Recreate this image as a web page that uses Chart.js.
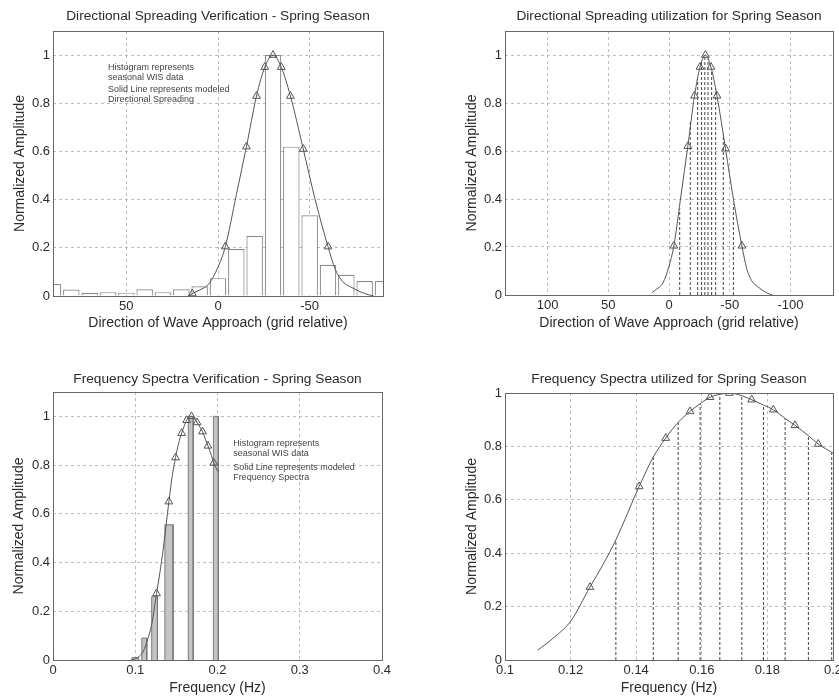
<!DOCTYPE html>
<html>
<head>
<meta charset="utf-8">
<script src="https://cdn.jsdelivr.net/npm/chart.js@4.4.1/dist/chart.umd.min.js"></script>
<style>
  html, body { margin: 0; padding: 0; background: #fff; overflow: hidden; width: 839px; height: 698px; position: relative; }
  canvas { position: absolute; }
</style>
</head>
<body>
<canvas id="dirVerify" style="left:0;top:0" width="420" height="349"></canvas>
<canvas id="dirUsed" style="left:420px;top:0" width="430" height="349"></canvas>
<canvas id="freqVerify" style="left:0;top:349px" width="420" height="360"></canvas>
<canvas id="freqUsed" style="left:420px;top:349px" width="430" height="360"></canvas>
<script>
/*=============== DATA ===============*/

// Directional histogram (10 deg bins, grid relative)
const dirBins = [90, 80, 70, 60, 50, 40, 30, 20, 10, 0, -10, -20, -30, -40, -50, -60, -70, -80, -90];
const dirHist = [0.05, 0.027, 0.012, 0.016, 0.014, 0.028, 0.016, 0.028, 0.04, 0.074, 0.195, 0.25, 1.0, 0.62, 0.335, 0.13, 0.088, 0.062, 0.062];

// Modeled directional spreading curve
const dirCurveX = [16, 14, 10, 5, 0, -4, -10, -15.5, -21, -25.5, -30, -34.5, -39.5, -46.5, -53, -60, -64, -68, -73, -80, -85];
const dirCurveY = [0, 0.01, 0.025, 0.05, 0.12, 0.205, 0.42, 0.62, 0.83, 0.95, 1.0, 0.95, 0.83, 0.61, 0.4, 0.205, 0.11, 0.06, 0.035, 0.01, 0];

// Triangle markers on the directional curve
const dirMarkX = [14, -4, -15.5, -21, -25.5, -30, -34.5, -39.5, -46.5, -60];
const dirMarkY = [0.01, 0.205, 0.62, 0.83, 0.95, 1.0, 0.95, 0.83, 0.61, 0.205];

// Direction bin boundaries used (dashed lines)
const dirCutX = [-8.8, -17.5, -23.6, -26.8, -29.5, -32.1, -35.1, -38.4, -44.7, -53];
const dirCutTop = [0.36, 0.72, 0.9, 0.97, 1.0, 0.985, 0.94, 0.86, 0.67, 0.38];

// Frequency histogram
const freqBinLo = [0.096, 0.108, 0.12, 0.136, 0.1645, 0.195];
const freqBinHi = [0.104, 0.114, 0.127, 0.146, 0.1705, 0.201];
const freqHist = [0.01, 0.09, 0.26, 0.555, 1.0, 1.0];

// Modeled frequency spectrum
const freqTailX = [0.095, 0.1, 0.105];
const freqTailY = [0, 0.005, 0.015];
const freqCurveX = [0.11, 0.115, 0.12, 0.1259, 0.13, 0.1338, 0.1409, 0.1452, 0.149, 0.1528, 0.1564, 0.1595, 0.1625, 0.1655, 0.1684, 0.1722, 0.1752, 0.1788, 0.1818, 0.1854, 0.1884, 0.1925, 0.1955, 0.2];
const freqCurveY = [0.037, 0.085, 0.145, 0.273, 0.36, 0.45, 0.65, 0.76, 0.831, 0.89, 0.931, 0.96, 0.984, 0.995, 1.0, 0.99, 0.975, 0.955, 0.9375, 0.905, 0.879, 0.84, 0.809, 0.775];

const freqMarkX = [0.1259, 0.1409, 0.149, 0.1564, 0.1625, 0.1684, 0.1752, 0.1818, 0.1884, 0.1955];
const freqMarkY = [0.273, 0.65, 0.831, 0.931, 0.984, 1.0, 0.975, 0.9375, 0.879, 0.809];

const freqCutX = [0.1338, 0.1452, 0.1528, 0.1595, 0.1655, 0.1722, 0.1788, 0.1854, 0.1925, 0.1996];
const freqCutTop = [0.45, 0.76, 0.89, 0.96, 0.995, 0.99, 0.955, 0.905, 0.84, 0.777];

const noteDir = ['Histogram represents', 'seasonal WIS data', 'Solid Line represents modeled', 'Directional Spreading'];
const noteFreq = ['Histogram represents', 'seasonal WIS data', 'Solid Line represents modeled', 'Frequency Spectra'];

/*=============== STYLE ===============*/
const FONT = '"Liberation Sans", Arial, sans-serif';
const INK = '#2b2b2b';
const CURVE = '#555';
const TITLE_SIZE = 13.7, AXIS_SIZE = 14, TICK_SIZE = 13;

Chart.defaults.font.family = FONT;
Chart.defaults.color = INK;
Chart.defaults.animation = false;

const pts = (xs, ys) => xs.map((x, i) => ({ x, y: ys[i] }));
const fmt = v => String(Math.round(v * 1000) / 1000);

// box around the plot area plus the title centred over it
const framePlugin = {
    id: 'frame',
    afterDatasetsDraw(chart, args, opts) {
        const { ctx, chartArea: a } = chart;
        ctx.save();
        ctx.strokeStyle = '#666';
        ctx.lineWidth = 1;
        ctx.strokeRect(Math.round(a.left) + 0.5, Math.round(a.top) + 0.5,
            Math.round(a.right - a.left), Math.round(a.bottom - a.top));
        ctx.font = TITLE_SIZE + 'px ' + FONT;
        ctx.fillStyle = INK;
        ctx.textAlign = 'center';
        ctx.textBaseline = 'middle';
        ctx.fillText(opts.title, (a.left + a.right) / 2, opts.titleY);
        ctx.restore();
    }
};

// small text notes placed in data coordinates
const notePlugin = {
    id: 'notes',
    afterDatasetsDraw(chart, args, opts) {
        if (!opts.lines) return;
        const { ctx, scales } = chart;
        const x0 = scales.x.getPixelForValue(opts.x);
        const y0 = scales.y.getPixelForValue(opts.y);
        ctx.save();
        ctx.font = opts.size + 'px ' + FONT;
        ctx.fillStyle = '#444';
        ctx.textBaseline = 'middle';
        opts.lines.forEach((t, i) => ctx.fillText(t, x0, y0 + opts.offsets[i]));
        ctx.restore();
    }
};

function curveSet(data) {
    return { data, showLine: true, pointRadius: 0, borderColor: CURVE, borderWidth: 1,
        cubicInterpolationMode: 'monotone', order: 1 };
}
function markSet(data) {
    return { data, showLine: false, pointStyle: 'triangle', pointRadius: 4.5,
        borderColor: CURVE, borderWidth: 1, backgroundColor: 'rgba(0,0,0,0)', order: 0 };
}
function cutSets(xs, tops) {
    return xs.map((x, i) => ({
        data: [{ x, y: 0 }, { x, y: tops[i] }], showLine: true, pointRadius: 0,
        borderColor: '#444', borderWidth: 1, borderDash: [3, 2], order: 1
    }));
}

// g: pixel geometry of the plot inside the canvas
function makeChart(id, g, datasets, xs, ys, titles, notes) {
    const alh = AXIS_SIZE * 1.2;
    const padL = g.yTitleX - alh / 2;
    const xAxisH = g.xTitleY + alh / 2 - g.bottom;
    const canvas = document.getElementById(id);
    const axis = (o, text) => ({
        type: 'linear', min: o.min, max: o.max, reverse: !!o.reverse, offset: false,
        ticks: { stepSize: o.step, includeBounds: false, autoSkip: false, maxRotation: 0,
            padding: 3, color: INK, font: { size: TICK_SIZE }, callback: fmt },
        grid: { color: '#bdbdbd', lineWidth: 1, drawTicks: false, offset: false },
        border: { display: false, dash: [3, 3] },
        title: { display: true, text, color: INK, padding: 0, font: { size: AXIS_SIZE } }
    });
    const xAxis = axis(xs, titles.x);
    xAxis.afterFit = s => { s.height = xAxisH; };
    const yAxis = axis(ys, 'Normalized Amplitude');
    yAxis.afterFit = s => { s.width = g.left - padL; };

    return new Chart(canvas, {
        type: 'scatter',
        data: { datasets },
        options: {
            responsive: false,
            layout: { padding: { left: padL, right: canvas.width - g.right, top: g.top,
                bottom: canvas.height - g.bottom - xAxisH } },
            scales: { x: xAxis, y: yAxis },
            plugins: {
                legend: { display: false },
                tooltip: { enabled: false },
                title: { display: false },
                frame: { title: titles.main, titleY: g.titleY },
                notes: notes || {}
            }
        },
        plugins: [framePlugin, notePlugin]
    });
}

document.addEventListener('DOMContentLoaded', () => {
    try {
        // top left: histogram vs model
        makeChart('dirVerify',
            { left: 53, right: 383, top: 31, bottom: 296, titleY: 16, xTitleY: 323, yTitleX: 20 },
            [
                { type: 'bar', data: pts(dirBins, dirHist), backgroundColor: '#fff',
                  borderColor: '#8a8a8a', borderWidth: 1.2, barPercentage: 0.9,
                  categoryPercentage: 1, order: 2 },
                curveSet(pts(dirCurveX, dirCurveY)),
                markSet(pts(dirMarkX, dirMarkY))
            ],
            { min: -90, max: 90, step: 50, reverse: true },
            { min: 0, max: 1.1, step: 0.2 },
            { main: 'Directional Spreading Verification - Spring Season',
              x: 'Direction of Wave Approach (grid relative)' },
            { lines: noteDir, x: 60, y: 0.95, size: 9, offsets: [0, 10.5, 22, 32.5] }
        );

        // top right: directions used
        makeChart('dirUsed',
            { left: 85, right: 413, top: 31, bottom: 295, titleY: 16, xTitleY: 323, yTitleX: 52 },
            [
                curveSet(pts(dirCurveX.slice(1), dirCurveY.slice(1))),
                ...cutSets(dirCutX, dirCutTop),
                markSet(pts(dirMarkX.slice(1), dirMarkY.slice(1)))
            ],
            { min: -135, max: 135, step: 50, reverse: true },
            { min: 0, max: 1.1, step: 0.2 },
            { main: 'Directional Spreading utilization for Spring Season',
              x: 'Direction of Wave Approach (grid relative)' }
        );

        // bottom left: frequency histogram vs model
        const freqBars = freqHist.map((h, i) => ({
            data: [{ x: freqBinLo[i], y: 0 }, { x: freqBinLo[i], y: h },
                   { x: freqBinHi[i], y: h }, { x: freqBinHi[i], y: 0 }],
            showLine: true, pointRadius: 0, tension: 0, fill: 'origin',
            backgroundColor: '#c4c4c4', borderColor: '#7a7a7a', borderWidth: 1, order: 2
        }));
        makeChart('freqVerify',
            { left: 53, right: 382, top: 43, bottom: 311, titleY: 30, xTitleY: 339, yTitleX: 19 },
            [
                ...freqBars,
                curveSet(pts(freqTailX.concat(freqCurveX), freqTailY.concat(freqCurveY))),
                markSet(pts(freqMarkX, freqMarkY))
            ],
            { min: 0, max: 0.4, step: 0.1 },
            { min: 0, max: 1.1, step: 0.2 },
            { main: 'Frequency Spectra Verification - Spring Season', x: 'Frequency (Hz)' },
            { lines: noteFreq, x: 0.219, y: 0.89, size: 9, offsets: [0, 10, 24, 34] }
        );

        // bottom right: frequencies used
        makeChart('freqUsed',
            { left: 85, right: 413, top: 44, bottom: 311, titleY: 30, xTitleY: 339, yTitleX: 52 },
            [
                curveSet(pts(freqCurveX, freqCurveY)),
                ...cutSets(freqCutX, freqCutTop),
                markSet(pts(freqMarkX, freqMarkY))
            ],
            { min: 0.1, max: 0.2, step: 0.02 },
            { min: 0, max: 1, step: 0.2 },
            { main: 'Frequency Spectra utilized for Spring Season', x: 'Frequency (Hz)' }
        );
    } catch (error) {
        console.error('Error drawing spreading charts:', error);
    }
});
</script>
</body>
</html>
